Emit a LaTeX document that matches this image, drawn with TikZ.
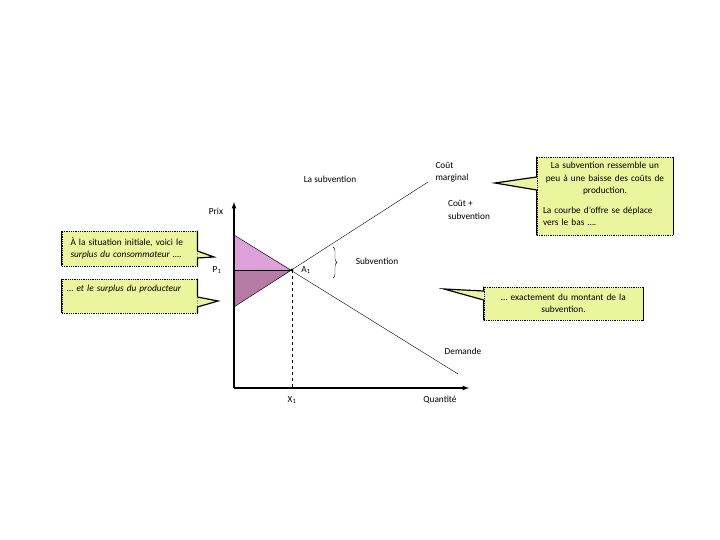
\documentclass[tikz,border=0pt]{standalone}
\usepackage{fontspec}
\setmainfont{Carlito}
\usetikzlibrary{positioning,decorations.pathreplacing}
\definecolor{notefill}{HTML}{EBF59E}
\definecolor{conscolor}{HTML}{DDA0DA}
\definecolor{prodcolor}{HTML}{B67BA4}

\begin{document}
\begin{tikzpicture}[x=1pt,y=1pt,font=\fontsize{9.3}{12.5}\selectfont,
    axis/.style={very thick,-latex},
    curve/.style={thin},
    note/.style={fill=notefill,draw,densely dotted,thick,inner xsep=5pt,inner ysep=0pt},
    side/.style={very thick,line join=miter},
    label/.style={inner sep=1pt}]
    \useasboundingbox (0,0) rectangle (720,540);
    % points of the graph
    \coordinate (O) at (234,152);
    \coordinate (ytop) at (234,338);
    \coordinate (xend) at (469,152);
    \coordinate (A1) at (292,270);
    \coordinate (S0) at (234,233);
    \coordinate (S1) at (428,358);
    \coordinate (D0) at (234,305);
    \coordinate (D1) at (458,166);
    \coordinate (X1) at (292,152);
    \coordinate (P1) at (234,270);
    % surpluses
    \fill[conscolor] (D0) -- (A1) -- (P1) -- cycle;
    \fill[prodcolor] (P1) -- (A1) -- (S0) -- cycle;
    \draw[curve] (P1) -- (A1);
    \draw[curve] (S0) -- (S1);
    \draw[curve] (D0) -- (D1);
    \draw[dashed] (A1) -- (X1);
    \draw[axis] (O) -- (ytop);
    \draw[axis] (O) -- (xend);
    \fill (A1) circle (1.6pt);
    \draw[decorate,decoration={brace,amplitude=4pt}] (333,293) -- (333,262);
    % texts
    \node[label] (title) at (330,361) {La subvention};
    \node[label,align=left] (cm) at (452,368) {Coût\\marginal};
    \node[label,align=left] (cs) at (469,330) {Coût +\\subvention};
    \node[label] (prix) at (216,329) {Prix};
    \node[label] (p1) at (217,270) {P\textsubscript{1}};
    \node[label] (a1) at (306,270) {A\textsubscript{1}};
    \node[label] (subv) at (377,279) {Subvention};
    \node[label] (dem) at (463,189) {Demande};
    \node[label] (x1) at (292,140) {X\textsubscript{1}};
    \node[label] (qte) at (440,140) {Quantité};
    % notes
    \node[note,text width=118pt,minimum height=35pt,align=left,inner xsep=8.5pt] (consnote) at (129.5,291.5)
        {À la situation initiale, voici le\\ \textit{surplus du consommateur ….}};
    \node[note,text width=125pt,minimum height=34pt,align=left] (prodnote) at (129.5,244)
        {\textit{… et le surplus du producteur}\\ \strut};
    \node[note,text width=126pt,minimum height=78pt,align=center,inner xsep=5pt] (shiftnote) at (605,344)
        {La subvention ressemble un\\ peu à une baisse des coûts de\\ production.\par\vspace{8pt}
         \makebox[\linewidth][l]{\hspace{1pt}\begin{tabular}{@{}l@{}}La courbe d’offre se déplace\\ vers le bas ….\end{tabular}}};
    \node[note,text width=149pt,minimum height=33pt,align=center] (amountnote) at (563.5,236.5)
        {… exactement du montant de la\\ subvention.};
    % pointers
    \coordinate (consnote tip) at (214,283);
    \coordinate (prodnote tip) at (218,239);
    \coordinate (shiftnote tip) at (495,357);
    \coordinate (amountnote tip) at (444,251);
    \filldraw[side,fill=notefill] (consnote.north east) -- ([yshift=-2.5pt]consnote.east) -- (consnote tip)
        -- ([yshift=-9.5pt]consnote.east) -- (consnote.south east);
    \draw[side] (consnote.north west) -- (consnote.south west);
    \filldraw[side,fill=notefill] (prodnote.north east) -- ([yshift=-1pt]prodnote.east) -- (prodnote tip)
        -- ([yshift=-11pt]prodnote.east) -- (prodnote.south east);
    \draw[side] (prodnote.north west) -- (prodnote.south west);
    \filldraw[side,fill=notefill] (shiftnote.north west) -- ([yshift=19pt]shiftnote.west) -- (shiftnote tip)
        -- ([yshift=6pt]shiftnote.west) -- (shiftnote.south west);
    \draw[side] (shiftnote.north east) -- (shiftnote.south east);
    \filldraw[side,fill=notefill] (amountnote.north west) -- ([yshift=12.5pt]amountnote.west) -- (amountnote tip)
        -- ([yshift=3.5pt]amountnote.west) -- (amountnote.south west);
    \draw[side] (amountnote.north east) -- (amountnote.south east);
\end{tikzpicture}
\end{document}
